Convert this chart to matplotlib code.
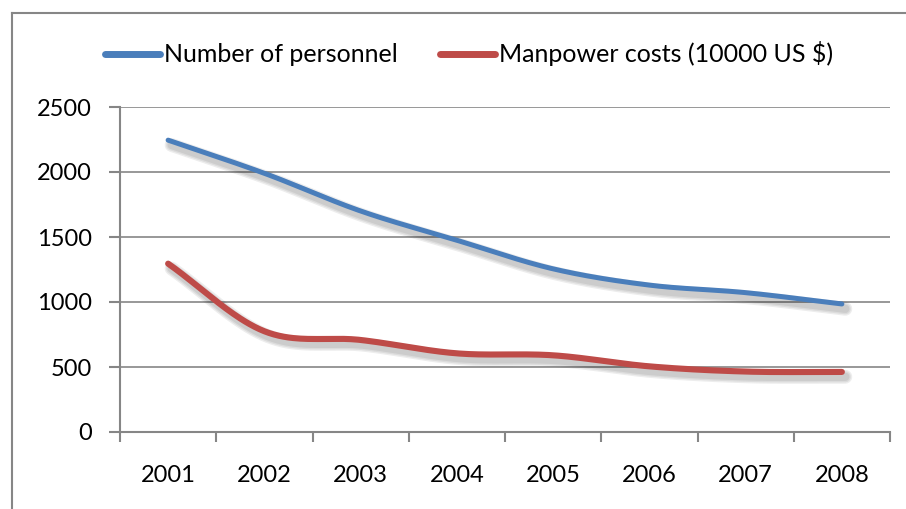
import numpy as np
import matplotlib
matplotlib.use("Agg")
import matplotlib.pyplot as plt
import matplotlib.patheffects as pe
from matplotlib.lines import Line2D

years = ["2001", "2002", "2003", "2004", "2005", "2006", "2007", "2008"]
personnel = [2245, 1990, 1700, 1475, 1255, 1130, 1072, 985]
costs = [1295, 775, 708, 605, 590, 505, 465, 462]
series_names = ["Number of personnel", "Manpower costs (10000 US $)"]
yticks = [0, 500, 1000, 1500, 2000, 2500]

BLUE = "#4A7EBB"
RED = "#BE4B48"
GRAY = "#868686"

plt.rcParams['font.family'] = ['Lato', 'DejaVu Sans']


def catmull_rom(xs, ys, n=40):
    xs = np.asarray(xs, float)
    ys = np.asarray(ys, float)
    px = np.concatenate([[2 * xs[0] - xs[1]], xs, [2 * xs[-1] - xs[-2]]])
    py = np.concatenate([[2 * ys[0] - ys[1]], ys, [2 * ys[-1] - ys[-2]]])
    outx, outy = [], []
    t = np.linspace(0, 1, n, endpoint=False)
    for i in range(1, len(px) - 2):
        p0x, p1x, p2x, p3x = px[i - 1:i + 3]
        p0y, p1y, p2y, p3y = py[i - 1:i + 3]
        t2, t3 = t * t, t * t * t
        bx = 0.5 * ((2 * p1x) + (-p0x + p2x) * t + (2 * p0x - 5 * p1x + 4 * p2x - p3x) * t2 + (-p0x + 3 * p1x - 3 * p2x + p3x) * t3)
        by = 0.5 * ((2 * p1y) + (-p0y + p2y) * t + (2 * p0y - 5 * p1y + 4 * p2y - p3y) * t2 + (-p0y + 3 * p1y - 3 * p2y + p3y) * t3)
        outx.extend(bx)
        outy.extend(by)
    outx.append(xs[-1])
    outy.append(ys[-1])
    return np.array(outx), np.array(outy)


fig = plt.figure(figsize=(9.06, 5.09), dpi=100)
ax = fig.add_axes([120 / 906, 1 - 432 / 509, (890 - 120) / 906, (432 - 107) / 509])

x = np.arange(len(years))
shadow = [pe.SimpleLineShadow(offset=(2.5, -3.5), shadow_color="#000000", alpha=0.07, linewidth=w)
          for w in (10, 8, 6)] + [pe.Normal()]

for vals, col, lw, name in [(personnel, BLUE, 3.6, series_names[0]), (costs, RED, 4.4, series_names[1])]:
    sx, sy = catmull_rom(x, vals)
    ax.plot(sx, sy, color=col, lw=lw, solid_capstyle="round", path_effects=shadow, zorder=3)

ax.set_xlim(-0.5, len(years) - 0.5)
ax.set_ylim(0, 2500)
ax.set_yticks(yticks)
ax.set_yticklabels([str(v) for v in yticks], fontsize=17)
ax.set_xticks(x)
ax.set_xticklabels(years, fontsize=17)
ax.set_xticks(np.arange(-0.5, len(years)), minor=True)
ax.tick_params(axis="x", which="major", length=0, pad=24)
ax.tick_params(axis="x", which="minor", length=7, width=1.5, color=GRAY, direction="out")
ax.tick_params(axis="y", length=8, width=1.5, color=GRAY, direction="out", pad=12)

ax.grid(axis="y", color=GRAY, lw=1.2)
ax.set_axisbelow(True)
for s in ["top", "right"]:
    ax.spines[s].set_visible(False)
for s in ["left", "bottom"]:
    ax.spines[s].set_color(GRAY)
    ax.spines[s].set_linewidth(1.5)

handles = [Line2D([], [], color=BLUE, lw=5, solid_capstyle="round"),
           Line2D([], [], color=RED, lw=5, solid_capstyle="round")]
fig.legend(handles, series_names, loc="center", bbox_to_anchor=(469 / 906, 1 - 54 / 509),
           ncol=2, frameon=False, fontsize=18, handlelength=2.2, handletextpad=0.15,
           columnspacing=1.7)

# outer chart border
fig.add_artist(Line2D([12 / 906, 12 / 906], [0, 1 - 13 / 509], transform=fig.transFigure, color=GRAY, lw=1.5))
fig.add_artist(Line2D([12 / 906, 1], [1 - 13 / 509, 1 - 13 / 509], transform=fig.transFigure, color=GRAY, lw=1.5))

fig.savefig("out.png", dpi=100)
